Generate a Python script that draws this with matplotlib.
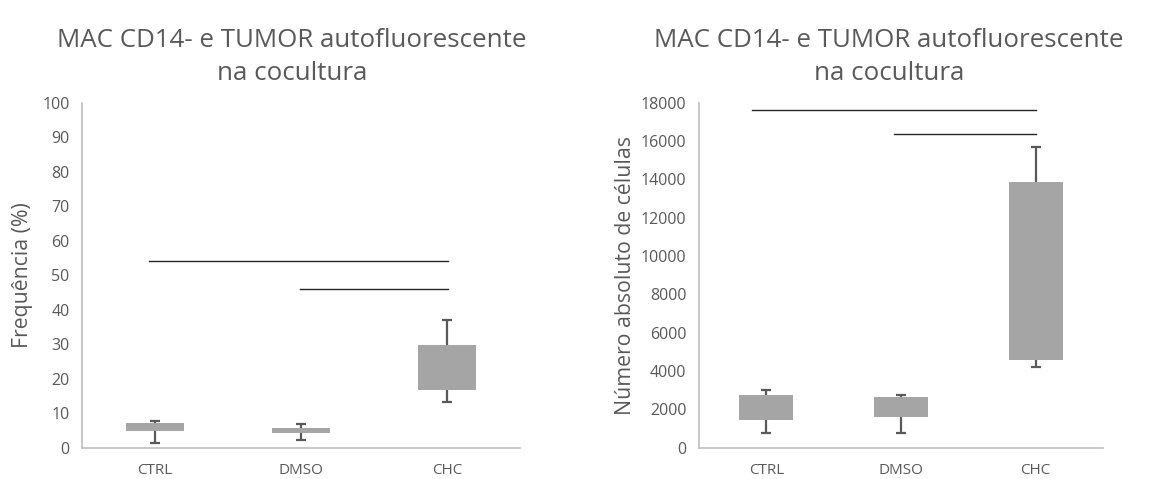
import matplotlib
matplotlib.use("Agg")
import matplotlib.pyplot as plt

# categories
groups = ['CTRL', 'DMSO', 'CHC']

# left chart: frequency (%) -> min, q1, q3, max per group
freq_min = [1.5, 2.1, 13.2]
freq_q1 = [4.9, 4.35, 16.7]
freq_q3 = [7.25, 5.8, 29.8]
freq_max = [7.8, 6.8, 37.0]
freq_bars = [(-0.04, 2.01, 54.1), (0.99, 2.01, 46.0)]  # (x start, x end, y)

# right chart: absolute cell count
abs_min = [748, 748, 4191]
abs_q1 = [1443, 1617, 4574]
abs_q3 = [2748, 2626, 13878]
abs_max = [3009, 2765, 15687]
abs_bars = [(-0.11, 2.0, 17617), (0.95, 2.0, 16365)]

title = 'MAC CD14- e TUMOR autofluorescente\nna cocultura'

plt.rcParams['font.family'] = ['Open Sans', 'DejaVu Sans']

BOX = '#A5A5A5'
WHISK = '#595959'
TXT = '#595959'
SPINE = '#BFBFBF'


def draw_box_chart(ax, vmin, q1, q3, vmax, sig, ylim, yticks, ylabel):
    """ Excel-style box chart: stacked box from q1 to q3 with min/max whiskers """
    x = list(range(len(groups)))
    heights = [b - a for a, b in zip(q1, q3)]
    ax.vlines(x, q3, vmax, color=WHISK, lw=1.6, zorder=2)
    ax.vlines(x, vmin, q1, color=WHISK, lw=1.6, zorder=2)
    ax.plot(x, vmax, ls='none', marker='_', ms=7, mew=1.6, color=WHISK, zorder=2)
    ax.plot(x, vmin, ls='none', marker='_', ms=7, mew=1.6, color=WHISK, zorder=2)
    ax.bar(x, heights, bottom=q1, width=0.4, color=BOX, zorder=3)

    # significance lines
    for x0, x1, y in sig:
        ax.plot([x0, x1], [y, y], color='#262626', lw=1.0, zorder=2)

    ax.set_xlim(-0.5, 2.5)
    ax.set_ylim(*ylim)
    ax.set_yticks(yticks)
    ax.set_xticks(x)
    ax.set_xticklabels(groups)
    ax.tick_params(axis='both', length=0, colors=TXT)
    ax.tick_params(axis='y', pad=9, labelsize=11.5)
    ax.tick_params(axis='x', pad=11, labelsize=11)
    for s in ['top', 'right']:
        ax.spines[s].set_visible(False)
    for s in ['left', 'bottom']:
        ax.spines[s].set_color(SPINE)
        ax.spines[s].set_linewidth(1.2)
    ax.set_ylabel(ylabel, fontsize=15.3, color=TXT)


fig = plt.figure(figsize=(11.65, 4.79), dpi=100)
ax1 = fig.add_axes([82 / 1165, 31.3 / 479, 438 / 1165, 345 / 479])
ax2 = fig.add_axes([699 / 1165, 31.3 / 479, 404 / 1165, 345 / 479])

draw_box_chart(ax1, freq_min, freq_q1, freq_q3, freq_max, freq_bars,
               (0, 100), range(0, 101, 10), 'Frequência (%)')
draw_box_chart(ax2, abs_min, abs_q1, abs_q3, abs_max, abs_bars,
               (0, 18000), range(0, 18001, 2000), 'Número absoluto de células')

ax1.yaxis.set_label_coords(-0.112, 0.5)
ax2.yaxis.set_label_coords(-0.155, 0.5)

fig.text(292 / 1165, 1 - 57 / 479, title, ha='center', va='center',
         fontsize=18.6, color=TXT, linespacing=1.4)
fig.text(889 / 1165, 1 - 57 / 479, title, ha='center', va='center',
         fontsize=18.6, color=TXT, linespacing=1.4)

fig.savefig('out.png', dpi=100)
